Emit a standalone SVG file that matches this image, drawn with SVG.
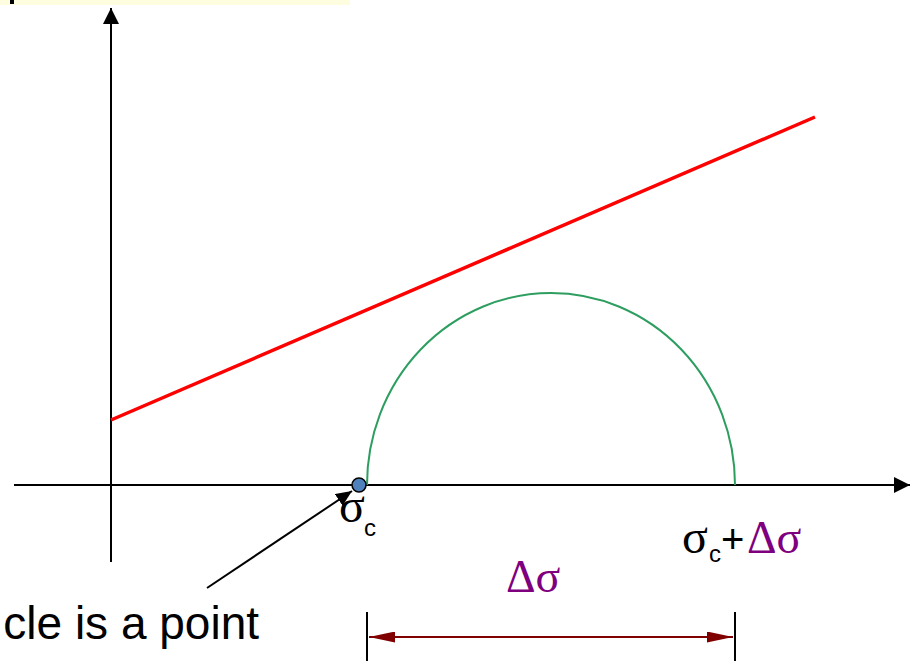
<svg xmlns="http://www.w3.org/2000/svg" width="920" height="661" viewBox="0 0 920 661">
<style>
.ax{stroke:#000;stroke-width:2;fill:none}
.serif{font-family:"Liberation Serif","DejaVu Serif",serif}
.sans{font-family:"Liberation Sans",Arial,sans-serif}
.purple{fill:#7F007F}
</style>
<defs>
<marker id="ah" viewBox="0 0 10 10" refX="10" refY="5" markerWidth="16" markerHeight="14" preserveAspectRatio="none" markerUnits="userSpaceOnUse" orient="auto"><path d="M0,0 L10,5 L0,10 z" fill="#000"/></marker>
<marker id="axh" viewBox="0 0 10 10" refX="10" refY="5" markerWidth="16" markerHeight="16" markerUnits="userSpaceOnUse" orient="auto"><path d="M0,0 L10,5 L0,10 z" fill="#000"/></marker>
<marker id="rh" viewBox="0 0 10 10" refX="10" refY="5" markerWidth="26" markerHeight="11" preserveAspectRatio="none" markerUnits="userSpaceOnUse" orient="auto-start-reverse"><path d="M0,0 L10,5 L0,10 z" fill="#800000"/></marker>
</defs>
<rect x="0" y="0" width="350" height="5" fill="#FFFDE0"/>
<rect x="10" y="0" width="4" height="4" fill="#000"/>
<g id="axes">
<line class="ax" x1="111" y1="562" x2="111" y2="8" marker-end="url(#axh)"/>
<line class="ax" x1="14" y1="485" x2="910" y2="485" marker-end="url(#axh)"/>
</g>
<g id="envelope"><line x1="111" y1="420" x2="815" y2="117" stroke="#FF0000" stroke-width="3.5"/></g>
<g id="circle"><path d="M367,485 A184,192 0 0 1 735,485" fill="none" stroke="#2E9E60" stroke-width="2"/></g>
<g id="point"><circle cx="359" cy="485" r="7" fill="#4F81BD" stroke="#000" stroke-width="1.5"/></g>
<g id="connectors">
<line x1="207" y1="588" x2="352" y2="491" stroke="#000" stroke-width="2" marker-end="url(#ah)"/>
<line x1="369" y1="637" x2="733" y2="637" stroke="#800000" stroke-width="2" marker-start="url(#rh)" marker-end="url(#rh)"/>
<line x1="367" y1="612" x2="367" y2="661" stroke="#000" stroke-width="2"/>
<line x1="735" y1="612" x2="735" y2="661" stroke="#000" stroke-width="2"/>
</g>
<g id="labels">
<text class="serif" x="339" y="522" font-size="48">σ</text>
<text class="sans" x="364" y="536" font-size="24">c</text>
<text class="serif" x="682" y="553" font-size="48">σ</text>
<text class="sans" x="709" y="562" font-size="24">c</text>
<text class="sans" x="721" y="553" font-size="40">+</text>
<text class="serif purple" x="747" y="553" font-size="46">Δσ</text>
<text class="serif purple" x="506" y="592" font-size="46">Δσ</text>
<text class="sans" x="259" y="639" font-size="46" text-anchor="end">cle is a point</text>
</g>
</svg>
